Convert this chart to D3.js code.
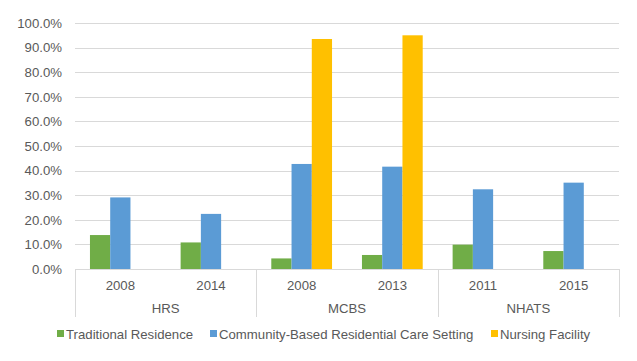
<!DOCTYPE html>
<html><head><meta charset="utf-8">
<script src="https://cdn.jsdelivr.net/npm/d3@7"></script>
<style>body{margin:0;background:#fff}svg{display:block}text{font-family:"Liberation Sans",Arial,sans-serif;fill:#595959}</style>
</head><body><svg id="c" width="637" height="361"></svg>
<script>
const groups = ["HRS","HRS","MCBS","MCBS","NHATS","NHATS"];
const years = ["2008","2014","2008","2013","2011","2015"];
const seriesNames = ["Traditional Residence","Community-Based Residential Care Setting","Nursing Facility"];
const traditional = [13.8,10.8,4.3,5.7,9.9,7.3];
const community = [29.1,22.4,42.7,41.6,32.4,35.1];
const nursing = [null,null,93.5,95.0,null,null];
const colors = ["#70AD47","#5B9BD5","#FFC000"];
const yTicks = [0,10,20,30,40,50,60,70,80,90,100];

const FS="13.2px";
const svg = d3.select("#c");
const L=75,R=619,T=23,B=269;
const keys = years.map((y,i)=>i);
const x = d3.scaleBand().domain(keys).range([L,R]).paddingInner(0.33).paddingOuter(0.165);
const y = d3.scaleLinear().domain([0,100]).range([B,T]);
const xs = d3.scaleBand().domain([0,1,2]).range([0,x.bandwidth()]);
const series=[traditional,community,nursing];

// gridlines
svg.append("g").selectAll("line").data(yTicks.filter(d=>d>0)).join("line")
 .attr("x1",L).attr("x2",R).attr("y1",d=>Math.round(y(d))+0.5).attr("y2",d=>Math.round(y(d))+0.5)
 .attr("stroke","#D9D9D9").attr("stroke-width",1);
// y labels
const yAxis = d3.axisLeft(y).tickValues(yTicks).tickFormat(d=>d.toFixed(1)+"%").tickSize(0).tickPadding(13);
const ga=svg.append("g").attr("transform",`translate(${L},0)`).call(yAxis);
ga.select(".domain").remove();
ga.selectAll("text").style("font-size",FS).attr("fill","#595959").style("font-family","Liberation Sans, Arial, sans-serif");

// bars
series.forEach((s,si)=>{
  svg.append("g").selectAll("rect").data(keys.filter(i=>s[i]!=null)).join("rect")
   .attr("x",i=>x(i)+xs(si)).attr("width",xs.bandwidth())
   .attr("y",i=>y(s[i])).attr("height",i=>B-y(s[i])).attr("fill",colors[si]);
});

// axis baseline & separators
svg.append("line").attr("x1",L).attr("x2",R).attr("y1",B+0.5).attr("y2",B+0.5).attr("stroke","#D9D9D9");
const step = x.step();
const seps=[0,2,4,6].map(k=>L+k*step);
svg.append("g").selectAll("line").data(seps).join("line")
 .attr("x1",d=>Math.round(d)+0.5).attr("x2",d=>Math.round(d)+0.5).attr("y1",B).attr("y2",317)
 .attr("stroke","#D9D9D9");
// year labels
svg.append("g").selectAll("text").data(keys).join("text")
 .attr("x",i=>L+(i+0.5)*step).attr("y",290).attr("text-anchor","middle").style("font-size",FS).text(i=>years[i]);
// group labels
const gnames=[...new Set(groups)];
svg.append("g").selectAll("text").data(gnames).join("text")
 .attr("x",(g,j)=>L+(j*2+1)*step).attr("y",313).attr("text-anchor","middle").style("font-size",FS).text(g=>g);

// legend
const legX=[57,210,491];
const lg=svg.append("g");
seriesNames.forEach((n,i)=>{
  lg.append("rect").attr("x",legX[i]).attr("y",330).attr("width",7).attr("height",7).attr("fill",colors[i]);
  lg.append("text").attr("x",legX[i]+9).attr("y",339).style("font-size",FS).text(n);
});
</script></body></html>
